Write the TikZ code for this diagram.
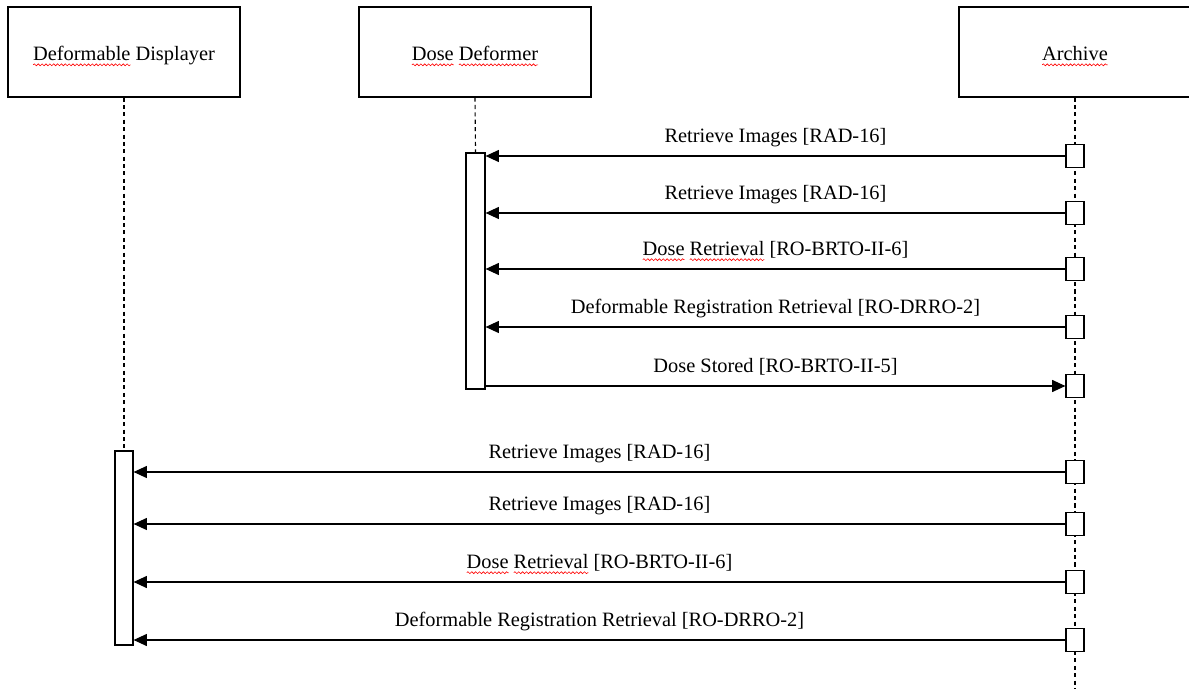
\documentclass[tikz,border=0pt]{standalone}
\usepackage{fontspec}
\setmainfont{Liberation Serif}
\usetikzlibrary{arrows.meta, decorations.pathmorphing}

\tikzset{
  lifebox/.style={draw, line width=0.7pt, minimum width=4.64cm, minimum height=1.8cm, text height=10pt, text depth=0pt},
  actbar/.style={draw, fill=white, line width=0.7pt, inner sep=0pt},
  stub/.style={draw, fill=white, line width=0.7pt, minimum width=0.36cm, minimum height=0.46cm, inner sep=0pt},
  lifeline/.style={line width=0.65pt, dash pattern=on 2.3pt off 1.9pt},
  msg/.style={line width=0.6pt, -{Triangle[length=7.5pt,width=6.8pt]}},
  msglabel/.style={anchor=base, yshift=7.6pt},
  spell/.style={red, line width=0.35pt, decorate, decoration={snake, amplitude=0.55pt, segment length=2.2pt}}
}

% red wavy mark under part of a node's text: node, start, end (pt from text start)
\newcommand{\spellmark}[3]{\draw[spell] ([xshift={#2}, yshift=-2.3pt]#1.text) -- ([xshift={#3}, yshift=-2.3pt]#1.text);}

\begin{document}
\fontsize{11.6}{14}\selectfont
\begin{tikzpicture}[x=0.02cm, y=-0.02cm]
\useasboundingbox (0,0) rectangle (1189,689);

% Heads
\node[lifebox] (disp) at (124,52) {Deformable Displayer};
\node[lifebox] (dose) at (475,52) {Dose Deformer};
\node[lifebox] (arch) at (1075,52) {Archive};

% Archive lifeline runs to the bottom
\coordinate (archend) at (1075,689);
\draw[lifeline] (arch.south) -- (archend);

% Activation bars
\node[actbar, minimum width=0.38cm, minimum height=4.72cm] (dosebar) at (475.5,271) {};
\node[actbar, minimum width=0.36cm, minimum height=3.88cm] (dispbar) at (124,548) {};
\draw[lifeline] (dose.south) -- (dosebar.north);
\draw[lifeline] (disp.south) -- (dispbar.north);

% Archive to Dose Deformer
\foreach \n/\y/\txt in {1/156/{Retrieve Images [RAD-16]},
                        2/213/{Retrieve Images [RAD-16]},
                        3/269/{Dose Retrieval [RO-BRTO-II-6]},
                        4/327/{Deformable Registration Retrieval [RO-DRRO-2]}}
{
    \node[stub] (a\n) at (1075,\y) {};
    \draw[msg] (a\n.west) -- (dosebar.east |- a\n.west) node[msglabel, midway] (l\n) {\txt};
}

% Dose Deformer to Archive
\node[stub] (a5) at (1075,386) {};
\draw[msg] (dosebar.east |- a5.west) -- (a5.west) node[msglabel, midway] (l5) {Dose Stored [RO-BRTO-II-5]};

% Archive to Deformable Displayer
\foreach \n/\y/\txt in {6/472/{Retrieve Images [RAD-16]},
                        7/524/{Retrieve Images [RAD-16]},
                        8/582/{Dose Retrieval [RO-BRTO-II-6]},
                        9/640/{Deformable Registration Retrieval [RO-DRRO-2]}}
{
    \node[stub] (a\n) at (1075,\y) {};
    \draw[msg] (a\n.west) -- (dispbar.east |- a\n.west) node[msglabel, midway] (l\n) {\txt};
}

% Spell check marks
\spellmark{disp}{0}{width("Deformable")}
\spellmark{dose}{0}{width("Dose")}
\spellmark{dose}{width("Dose Deformer")-width("Deformer")}{width("Dose Deformer")}
\spellmark{arch}{0}{width("Archive")}
\foreach \l in {l3, l8}
{
    \spellmark{\l}{0}{width("Dose")}
    \spellmark{\l}{width("Dose Retrieval")-width("Retrieval")}{width("Dose Retrieval")}
}

\end{tikzpicture}
\end{document}
